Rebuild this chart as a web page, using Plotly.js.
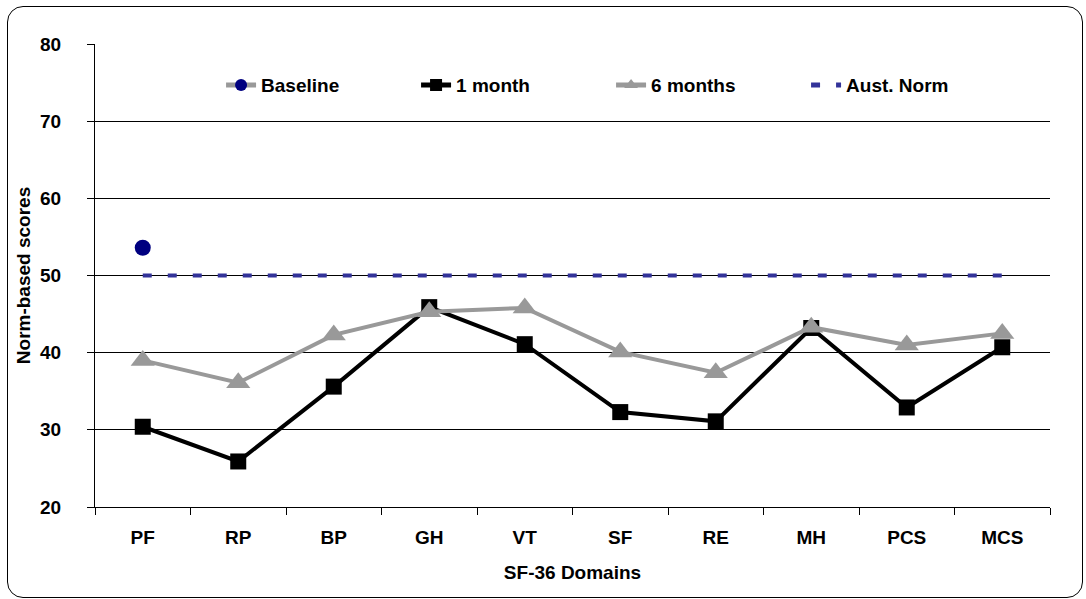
<!DOCTYPE html>
<html>
<head>
<meta charset="utf-8">
<script src="https://cdn.plot.ly/plotly-3.0.1.min.js"></script>
<style>
  html, body { margin: 0; padding: 0; background: #fff; }
  #wrap { position: relative; width: 1086px; height: 599px; }
  #chart { width: 1086px; height: 599px; }
  #frame { position: absolute; left: 7px; top: 6px; width: 1074px; height: 590px;
           border: 1.5px solid #000; border-radius: 16px; pointer-events: none; }
</style>
</head>
<body>
<div id="wrap">
  <div id="chart"></div>
  <div id="frame"></div>
</div>
<script>
const domains = ["PF", "RP", "BP", "GH", "VT", "SF", "RE", "MH", "PCS", "MCS"];
const baseline = [53.6, null, null, null, null, null, null, null, null, null];
const oneMonth = [30.4, 25.9, 35.6, 45.9, 41.1, 32.3, 31.1, 43.2, 32.9, 40.7];
const sixMonths = [39.0, 36.1, 42.3, 45.3, 45.8, 40.1, 37.4, 43.3, 41.0, 42.5];
const austNorm = [50, 50, 50, 50, 50, 50, 50, 50, 50, 50];
const yTicks = [20, 30, 40, 50, 60, 70, 80];

const FONT = "Liberation Sans, Arial, sans-serif";

const traces = [
  {
    name: "Baseline", x: domains, y: baseline, type: "scatter", mode: "lines+markers",
    line: { color: "#999999", width: 1.5 },
    marker: { symbol: "circle", color: "#000080", size: 16 }
  },
  {
    name: "1 month", x: domains, y: oneMonth, type: "scatter", mode: "lines+markers",
    line: { color: "#000000", width: 4 },
    marker: { symbol: "square", color: "#000000", size: 16 }
  },
  {
    name: "6 months", x: domains, y: sixMonths, type: "scatter", mode: "lines+markers",
    line: { color: "#999999", width: 4 },
    marker: { symbol: "triangle-up", color: "#999999", size: 21 }
  },
  {
    name: "Aust. Norm", x: domains, y: austNorm, type: "scatter", mode: "lines",
    line: { color: "#333399", width: 4, dash: "9px,16px" }
  }
];

const layout = {
  width: 1086, height: 599,
  paper_bgcolor: "#ffffff", plot_bgcolor: "#ffffff",
  margin: { l: 95, r: 36, t: 44, b: 92 },
  font: { family: FONT, color: "#000", size: 19 },
  showlegend: true,
  legend: {
    orientation: "h", x: 0.132, xanchor: "left", y: 0.911, yanchor: "middle",
    bgcolor: "rgba(0,0,0,0)", entrywidth: 150, itemsizing: "constant",
    font: { family: FONT, size: 19, color: "#000", weight: "bold" }
  },
  xaxis: {
    type: "category", categoryarray: domains, range: [-0.5, domains.length - 0.5],
    showline: true, linecolor: "#000", linewidth: 1,
    ticks: "outside", tickson: "boundaries", ticklen: 7, tickcolor: "#000",
    showgrid: false, zeroline: false, ticklabelstandoff: 13,
    tickfont: { family: FONT, size: 19, weight: "bold", color: "#000" },
    title: { text: "SF-36 Domains", standoff: 18,
             font: { family: FONT, size: 19, weight: "bold", color: "#000" } }
  },
  yaxis: {
    range: [20, 80], tickvals: yTicks, ticktext: yTicks.map(String),
    showline: true, linecolor: "#000", linewidth: 1,
    ticks: "outside", ticklen: 7, tickcolor: "#000",
    showgrid: true, gridcolor: "#000", gridwidth: 1, zeroline: false,
    ticklabelstandoff: 22,
    tickfont: { family: FONT, size: 19, weight: "bold", color: "#000" },
    title: { text: "Norm-based scores", standoff: 4,
             font: { family: FONT, size: 19, weight: "bold", color: "#000" } }
  }
};

Plotly.newPlot("chart", traces, layout, { displayModeBar: false, staticPlot: true });
</script>
</body>
</html>
